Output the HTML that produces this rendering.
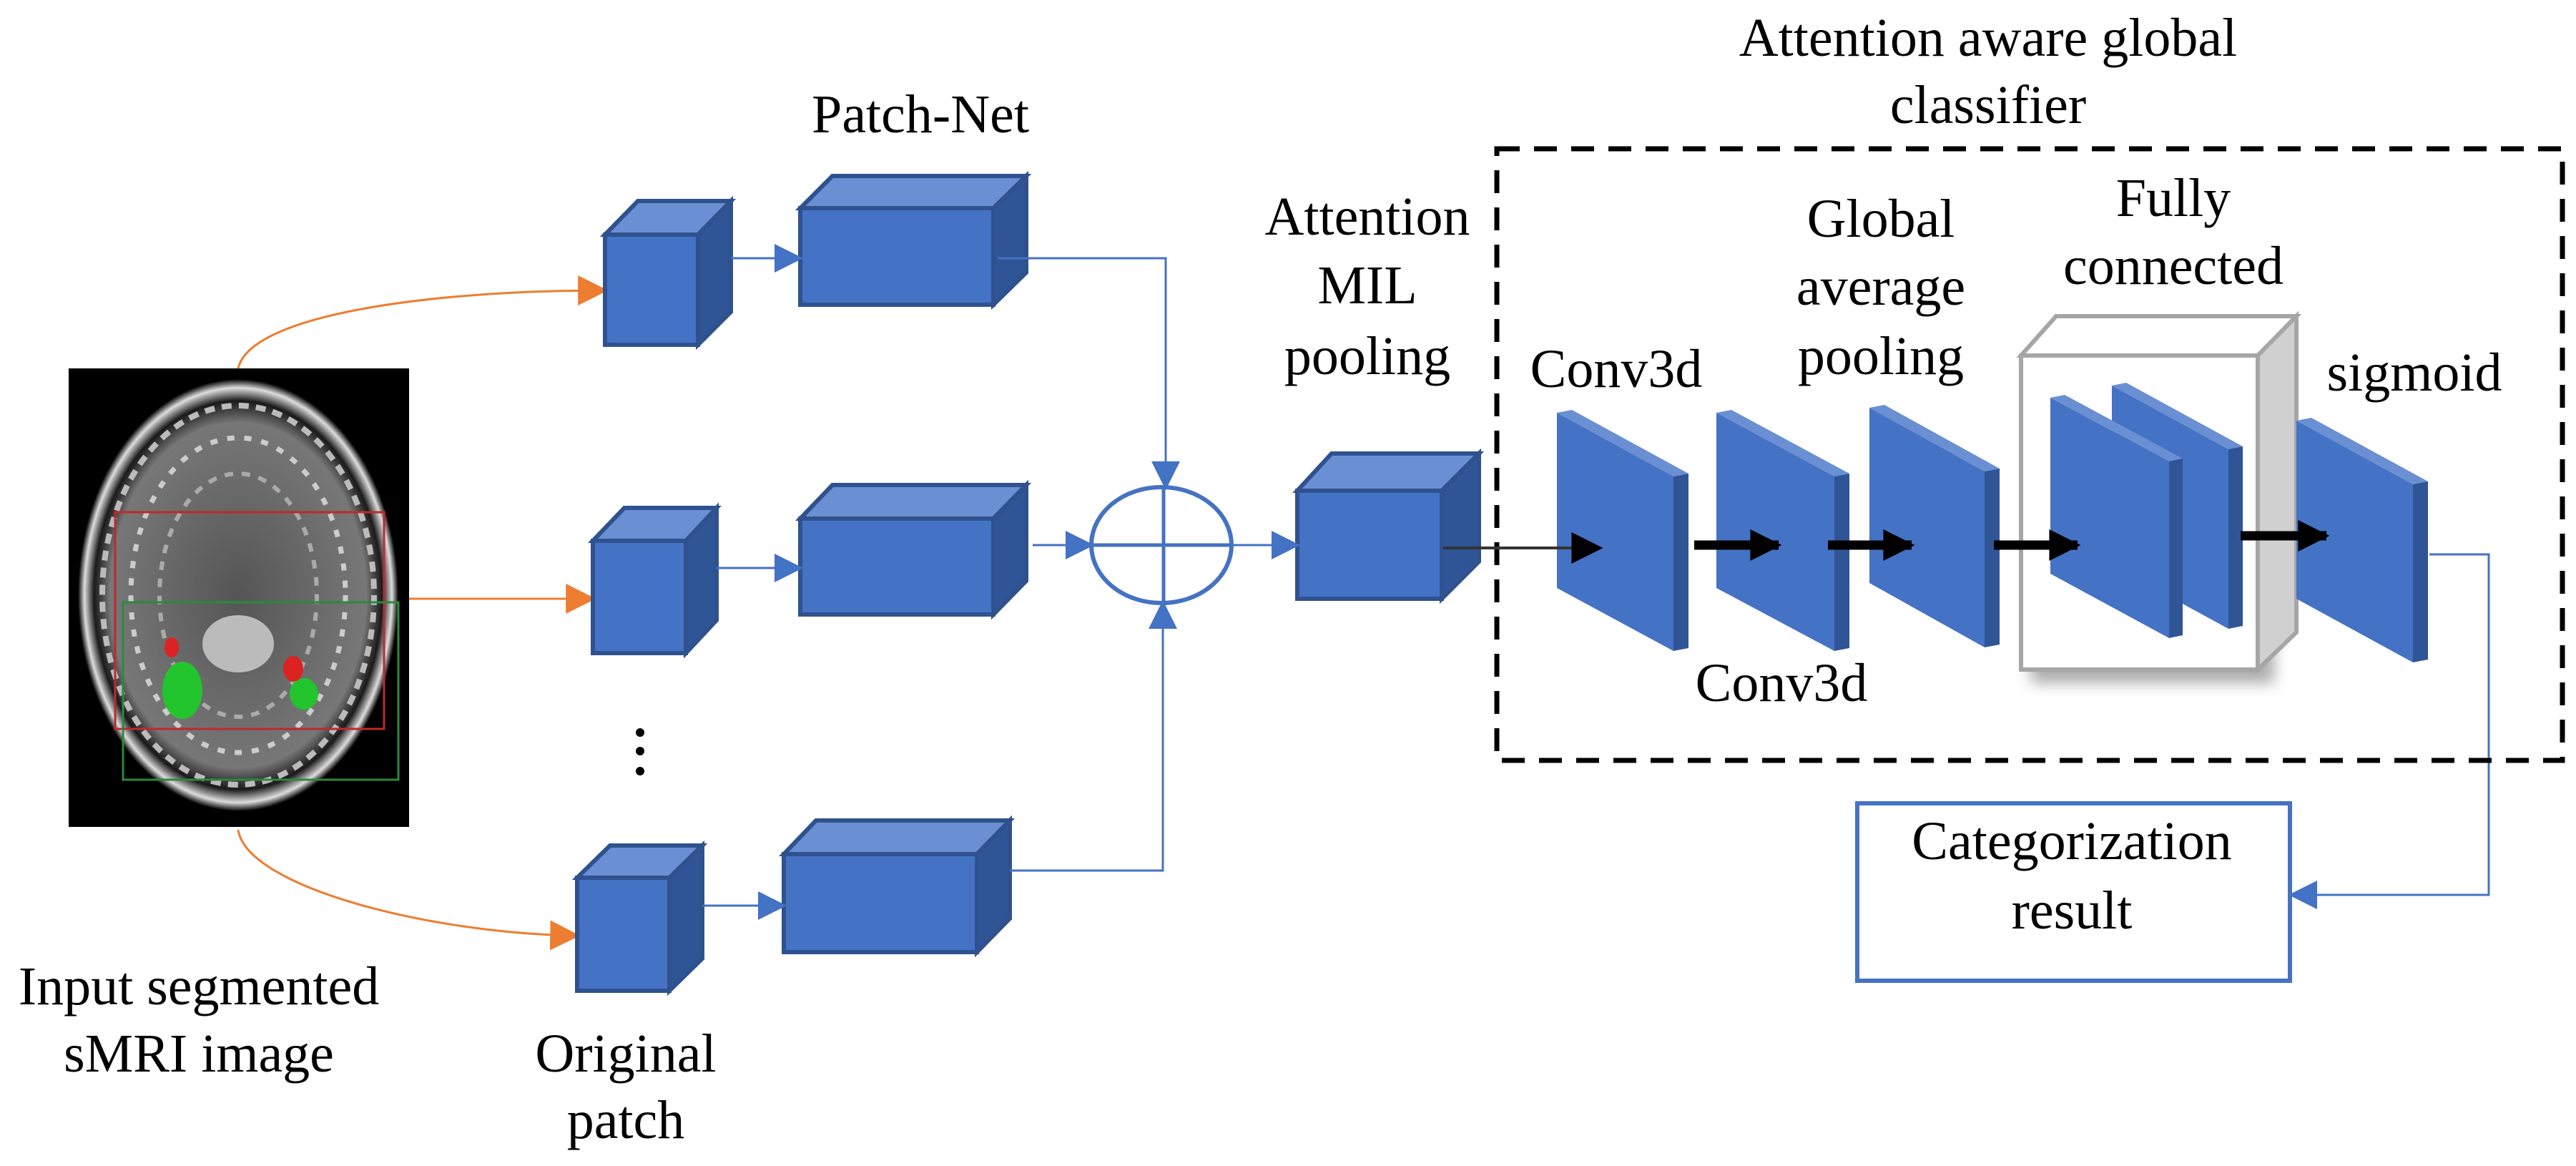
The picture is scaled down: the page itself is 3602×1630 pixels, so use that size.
<!DOCTYPE html>
<html><head><meta charset="utf-8"><style>
html,body{margin:0;padding:0;background:#fff}
svg{display:block}
text{font-family:"Liberation Serif","Times New Roman",serif;font-size:76px;fill:#000}
</style></head><body>
<svg width="3602" height="1630" viewBox="0 0 3602 1630" xmlns="http://www.w3.org/2000/svg">
<defs>
<marker id="oo" viewBox="0 0 10 10" refX="9" refY="5" markerWidth="42" markerHeight="44" orient="auto" markerUnits="userSpaceOnUse"><path d="M0,0 L10,5 L0,10z" fill="#ED7D31"/></marker>
<marker id="bb" viewBox="0 0 10 10" refX="9" refY="5" markerWidth="42" markerHeight="40" orient="auto" markerUnits="userSpaceOnUse"><path d="M0,0 L10,5 L0,10z" fill="#4472C4"/></marker>
<marker id="kk" viewBox="0 0 10 10" refX="9" refY="5" markerWidth="46" markerHeight="44" orient="auto" markerUnits="userSpaceOnUse"><path d="M0,0 L10,5 L0,10z" fill="#000"/></marker>
<filter id="sh" x="-20%" y="-20%" width="150%" height="150%"><feGaussianBlur stdDeviation="10"/></filter>
<radialGradient id="br" cx="50%" cy="50%" r="50%"><stop offset="0" stop-color="#555"/><stop offset="0.8" stop-color="#777"/><stop offset="0.9" stop-color="#1a1a1a"/><stop offset="0.96" stop-color="#ddd"/><stop offset="1" stop-color="#000"/></radialGradient>
</defs>

<!-- brain -->
<rect x="96" y="515" width="476" height="641" fill="#000"/>
<ellipse cx="333" cy="832" rx="224" ry="302" fill="url(#br)"/>
<ellipse cx="333" cy="832" rx="190" ry="265" fill="none" stroke="#bbb" stroke-width="8" stroke-dasharray="14 10"/>
<ellipse cx="333" cy="832" rx="150" ry="220" fill="none" stroke="#ccc" stroke-width="7" stroke-dasharray="10 14"/>
<ellipse cx="333" cy="832" rx="110" ry="170" fill="none" stroke="#aaa" stroke-width="6" stroke-dasharray="12 12"/>
<ellipse cx="333" cy="900" rx="50" ry="40" fill="#bbb"/>
<rect x="161" y="716" width="376" height="303" fill="none" stroke="#c0282d" stroke-width="3"/>
<rect x="172" y="842" width="385" height="248" fill="none" stroke="#2a8a3a" stroke-width="3"/>
<ellipse cx="255" cy="965" rx="28" ry="40" fill="#22c52e"/>
<ellipse cx="425" cy="970" rx="20" ry="22" fill="#22c52e"/>
<ellipse cx="410" cy="935" rx="14" ry="18" fill="#d22"/>
<ellipse cx="240" cy="905" rx="10" ry="14" fill="#d22"/>

<!-- orange arrows -->
<path d="M333,515 C350,440 600,406 846,406" fill="none" stroke="#ED7D31" stroke-width="3" marker-end="url(#oo)"/>
<path d="M572,837 L829,837" fill="none" stroke="#ED7D31" stroke-width="3" marker-end="url(#oo)"/>
<path d="M333,1160 C345,1240 600,1305 807,1308" fill="none" stroke="#ED7D31" stroke-width="3" marker-end="url(#oo)"/>

<!-- cubes -->
<g stroke="#2F528F" stroke-width="6" stroke-linejoin="miter">
<polygon points="846,328 892,281 1022,281 976,328" fill="#6A8FD3"/>
<polygon points="976,328 1022,281 1022,436 976,482" fill="#2F5597"/>
<rect x="846" y="328" width="130" height="154" fill="#4472C4"/>

<polygon points="1119,291 1164,246 1435,246 1389,291" fill="#6A8FD3"/>
<polygon points="1389,291 1435,246 1435,381 1389,426" fill="#2F5597"/>
<rect x="1119" y="291" width="270" height="135" fill="#4472C4"/>

<polygon points="829,756 873,710 1002,710 959,756" fill="#6A8FD3"/>
<polygon points="959,756 1002,710 1002,867 959,913" fill="#2F5597"/>
<rect x="829" y="756" width="130" height="157" fill="#4472C4"/>

<polygon points="1119,725 1164,678 1435,678 1389,725" fill="#6A8FD3"/>
<polygon points="1389,725 1435,678 1435,812 1389,859" fill="#2F5597"/>
<rect x="1119" y="725" width="270" height="134" fill="#4472C4"/>

<polygon points="807,1227 853,1182 982,1182 936,1227" fill="#6A8FD3"/>
<polygon points="936,1227 982,1182 982,1340 936,1385" fill="#2F5597"/>
<rect x="807" y="1227" width="129" height="158" fill="#4472C4"/>

<polygon points="1096,1194 1141,1147 1412,1147 1366,1194" fill="#6A8FD3"/>
<polygon points="1366,1194 1412,1147 1412,1284 1366,1331" fill="#2F5597"/>
<rect x="1096" y="1194" width="270" height="137" fill="#4472C4"/>

<polygon points="1814,686 1862,634 2068,634 2016,686" fill="#6A8FD3"/>
<polygon points="2016,686 2068,634 2068,785 2016,837" fill="#2F5597"/>
<rect x="1814" y="686" width="202" height="151" fill="#4472C4"/>
</g>

<!-- dots -->
<circle cx="895" cy="1024" r="6" fill="#000"/><circle cx="895" cy="1050" r="6" fill="#000"/><circle cx="895" cy="1078" r="6" fill="#000"/>

<!-- blue connectors -->
<g fill="none" stroke="#4472C4" stroke-width="3">
<path d="M1022,361 L1119,361" marker-end="url(#bb)"/>
<path d="M1002,794 L1119,794" marker-end="url(#bb)"/>
<path d="M982,1266 L1096,1266" marker-end="url(#bb)"/>
<path d="M1395,361 L1630,361 L1630,681" marker-end="url(#bb)"/>
<path d="M1444,762 L1526,762" marker-end="url(#bb)"/>
<path d="M1412,1217 L1626,1217 L1626,843" marker-end="url(#bb)"/>
<path d="M1722,762 L1814,762" marker-end="url(#bb)"/>
<path d="M3397,775 L3480,775 L3480,1251 L3204,1251" marker-end="url(#bb)"/>
</g>
<ellipse cx="1624" cy="762" rx="98" ry="81" fill="none" stroke="#4472C4" stroke-width="6"/>
<line x1="1526" y1="762" x2="1722" y2="762" stroke="#4472C4" stroke-width="5"/>
<line x1="1627" y1="681" x2="1627" y2="843" stroke="#4472C4" stroke-width="5"/>

<!-- dashed box -->
<rect x="2093" y="208" width="1490" height="855" fill="none" stroke="#000" stroke-width="7" stroke-dasharray="32 20"/>

<!-- FC box -->
<rect x="2840" y="515" width="340" height="440" fill="#888" filter="url(#sh)" opacity="0.7"/>
<polygon points="2826,497 2875,442 3211,442 3157,497" fill="#fff" stroke="#a6a6a6" stroke-width="6"/>
<polygon points="3157,497 3211,442 3211,884 3157,936" fill="#d0d0d0" stroke="#a6a6a6" stroke-width="6"/>
<rect x="2826" y="497" width="331" height="439" fill="#fff" stroke="#a6a6a6" stroke-width="6"/>

<!-- plates -->
<g>
<polygon points="2177,577 2340,666 2361,662 2198,573" fill="#6A8FD3"/><polygon points="2340,666 2361,662 2361,906 2340,910" fill="#2F5597"/><polygon points="2177,577 2340,666 2340,910 2177,822" fill="#4472C4"/>
<polygon points="2400,577 2565,666 2586,662 2421,573" fill="#6A8FD3"/><polygon points="2565,666 2586,662 2586,906 2565,910" fill="#2F5597"/><polygon points="2400,577 2565,666 2565,910 2400,822" fill="#4472C4"/>
<polygon points="2614,570 2775,659 2796,655 2635,566" fill="#6A8FD3"/><polygon points="2775,659 2796,655 2796,901 2775,905" fill="#2F5597"/><polygon points="2614,570 2775,659 2775,905 2614,815" fill="#4472C4"/>
<polygon points="2953,539 3116,628 3136,624 2973,535" fill="#6A8FD3"/><polygon points="3116,628 3136,624 3136,875 3116,879" fill="#2F5597"/><polygon points="2953,539 3116,628 3116,879 2953,790" fill="#4472C4"/>
<polygon points="2867,556 3033,645 3052,641 2887,552" fill="#6A8FD3"/><polygon points="3033,645 3052,641 3052,888 3033,892" fill="#2F5597"/><polygon points="2867,556 3033,645 3033,892 2867,802" fill="#4472C4"/>
<polygon points="3211,588 3374,677 3395,673 3232,584" fill="#6A8FD3"/><polygon points="3374,677 3395,673 3395,922 3374,926" fill="#2F5597"/><polygon points="3211,588 3374,677 3374,926 3211,837" fill="#4472C4"/>
</g>

<!-- black arrows -->
<line x1="2018" y1="766" x2="2237" y2="766" stroke="#333" stroke-width="4" marker-end="url(#kk)"/>
<g stroke="#000" stroke-width="13">
<line x1="2369" y1="762" x2="2487" y2="762" marker-end="url(#kk)"/>
<line x1="2556" y1="762" x2="2673" y2="762" marker-end="url(#kk)"/>
<line x1="2788" y1="762" x2="2905" y2="762" marker-end="url(#kk)"/>
<line x1="3133" y1="749" x2="3253" y2="749" marker-end="url(#kk)"/>
</g>

<!-- categorization box -->
<rect x="2597" y="1123" width="605" height="248" fill="#fff" stroke="#4472C4" stroke-width="6"/>

<!-- labels -->
<g text-anchor="middle" font-family="Liberation Serif, Times New Roman, serif" font-size="76">
<text x="1287" y="185">Patch-Net</text>
<text x="278" y="1404">Input segmented</text>
<text x="278" y="1498">sMRI image</text>
<text x="875" y="1498">Original</text>
<text x="875" y="1591">patch</text>
<text x="1912" y="328">Attention</text>
<text x="1912" y="424">MIL</text>
<text x="1912" y="523">pooling</text>
<text x="2780" y="78">Attention aware global</text>
<text x="2780" y="172">classifier</text>
<text x="2260" y="541">Conv3d</text>
<text x="2491" y="980">Conv3d</text>
<text x="2630" y="331">Global</text>
<text x="2630" y="426">average</text>
<text x="2630" y="523">pooling</text>
<text x="3039" y="302">Fully</text>
<text x="3039" y="397">connected</text>
<text x="3376" y="546">sigmoid</text>
<text x="2897" y="1201">Categorization</text>
<text x="2897" y="1298">result</text>
</g>
</svg>
</body></html>
